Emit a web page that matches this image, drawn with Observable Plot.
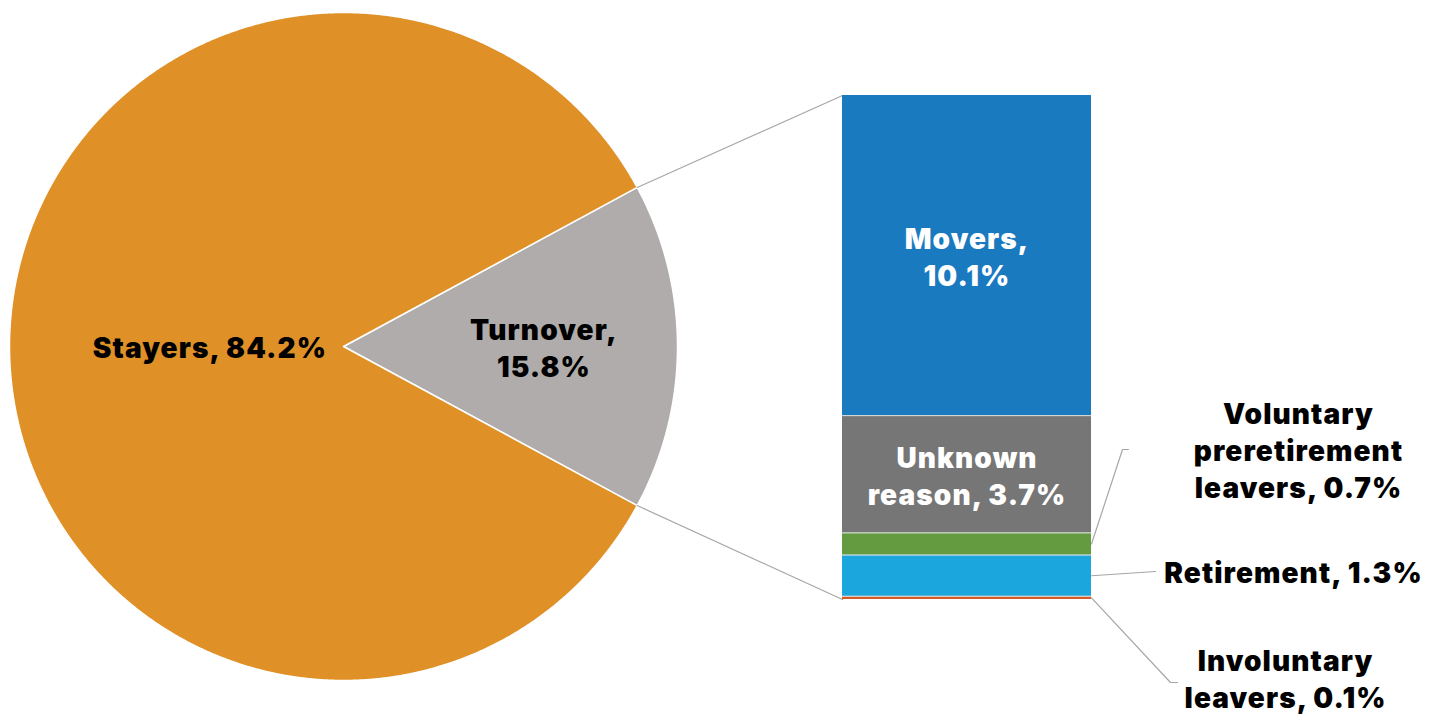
<!DOCTYPE html>
<html><head><meta charset="utf-8">
<script src="https://cdn.jsdelivr.net/npm/d3@7"></script>
<script src="https://cdn.jsdelivr.net/npm/@observablehq/plot@0.6"></script>
<style>html,body{margin:0;padding:0;background:#fff;overflow:hidden} svg text{letter-spacing:1.1px}</style>
</head><body><div id="chart"></div>
<script>
// ---- data ----
const pieCategories = ["Turnover", "Stayers"];
const pieValues = [15.8, 84.2];
const pieLabels = ["Turnover,\n15.8%", "Stayers, 84.2%"];
const pieColors = ["#afacab", "#df9027"];

// bar: listed bottom to top
const barCategories = ["Involuntary leavers", "Retirement", "Voluntary preretirement leavers", "Unknown reason", "Movers"];
const barValues = [0.1, 1.3, 0.7, 3.7, 10.1];
const barLabels = ["Involuntary\nleavers, 0.1%", "Retirement, 1.3%", "Voluntary\npreretirement\nleavers, 0.7%", "Unknown\nreason, 3.7%", "Movers,\n10.1%"];
const barColors = ["#d45a27", "#1ba6de", "#659b40", "#767676", "#1a7abf"];
const barLabelInside = [false, false, false, true, true];

// ---- layout ----
const W = 1447, H = 715;
const cx = 343, cy = 346, R = 334;
const barX1 = 842, barX2 = 1091, barTop = 95, barBottom = 599;
const font = "Inter, 'Open Sans', sans-serif";

// pie geometry from values
const span0 = 2 * Math.PI * pieValues[0] / d3.sum(pieValues);
const start = Math.PI / 2 - span0 / 2;
const arcs = d3.pie().sort(null).startAngle(start).endAngle(start + 2 * Math.PI)(pieValues);
const pt = (a, r) => ({x: cx + r * Math.sin(a), y: cy - r * Math.cos(a)});
const slicePolys = arcs.map((a, i) => {
  const pts = [pt(0, 0)];
  const n = Math.max(2, Math.ceil((a.endAngle - a.startAngle) / 0.005));
  for (let k = 0; k <= n; k++) pts.push(pt(a.startAngle + (a.endAngle - a.startAngle) * k / n, R));
  return pts;
});
const pieLabelPos = arcs.map((a, i) => {
  const mid = (a.startAngle + a.endAngle) / 2;
  return {...pt(mid, i === 0 ? 0.6 * R : 0.4 * R), label: pieLabels[i]};
});

// bar scale from values
const total = d3.sum(barValues);
const yBar = Plot.scale({y: {domain: [0, total], range: [barBottom, barTop]}});
let cum = 0;
const segs = barValues.map((v, i) => {
  const s = {y1: yBar.apply(cum + v), y2: yBar.apply(cum), mid: yBar.apply(cum + v / 2), color: barColors[i], label: barLabels[i]};
  cum += v;
  return s;
});
const boundaries = segs.slice(1).map(s => s.y2);

// connectors pie -> bar
const tTop = pt(arcs[0].startAngle, R), tBot = pt(arcs[0].endAngle, R);
const connectors = [
  [tTop, {x: barX1, y: yBar.apply(total)}],
  [tBot, {x: barX1, y: yBar.apply(0)}]
];

// outside label anchors and leader lines
const outside = [
  {i: 0, x: 1285, y: 677, leader: [{x: barX2, y: segs[0].mid}, {x: 1170, y: 682}, {x: 1177, y: 682}]},
  {i: 1, x: 1293, y: 571, leader: [{x: barX2, y: segs[1].mid}, {x: 1155, y: 571}]},
  {i: 2, x: 1298, y: 449, leader: [{x: barX2, y: segs[2].mid}, {x: 1122, y: 449}, {x: 1128, y: 449}]}
];

const textOpts = {fontSize: 28, fontWeight: 900, fontFamily: font, lineHeight: 1.32, lineAnchor: "middle", textAnchor: "middle"};

const marks = [];
slicePolys.forEach((p, i) => marks.push(Plot.line(p, {x: "x", y: "y", curve: "linear-closed", fill: pieColors[i], stroke: "white", strokeWidth: 1.5})));
connectors.forEach(c => marks.push(Plot.line(c, {x: "x", y: "y", stroke: "#a6a6a6", strokeWidth: 1.2})));
marks.push(Plot.rect(segs, {x1: barX1, x2: barX2, y1: "y1", y2: "y2", fill: "color"}));
marks.push(Plot.ruleY(boundaries, {x1: barX1, x2: barX2, stroke: "#e0e0e0", strokeWidth: 1}));
outside.forEach(o => marks.push(Plot.line(o.leader, {x: "x", y: "y", stroke: "#a6a6a6", strokeWidth: 1.2})));
marks.push(Plot.text(pieLabelPos, {x: "x", y: "y", text: "label", fill: "black", ...textOpts}));
marks.push(Plot.text(segs.filter((s, i) => barLabelInside[i]), {x: (barX1 + barX2) / 2, y: "mid", text: "label", fill: "white", ...textOpts}));
marks.push(Plot.text(outside, {x: "x", y: "y", text: d => barLabels[d.i], fill: "black", ...textOpts}));

const chart = Plot.plot({
  width: W, height: H, margin: 0,
  x: {domain: [0, W], range: [0, W], axis: null},
  y: {domain: [0, H], range: [0, H], axis: null},
  color: {type: "identity"},
  marks
});
document.getElementById("chart").append(chart);
</script>
</body></html>
